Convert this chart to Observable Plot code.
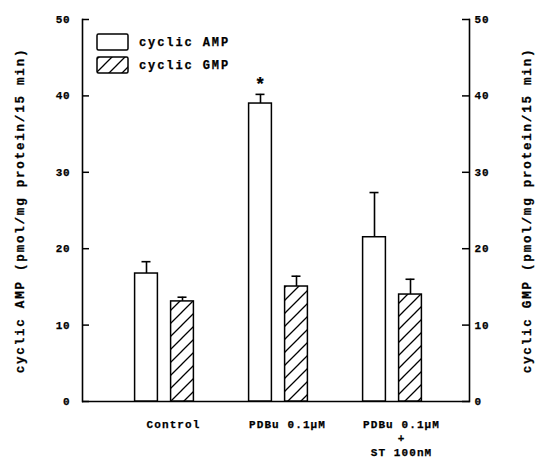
<!DOCTYPE html>
<html><head><meta charset="utf-8">
<script src="https://cdn.jsdelivr.net/npm/d3@7"></script>
<script src="https://cdn.jsdelivr.net/npm/@observablehq/plot@0.6"></script>
<style>
body{margin:0;background:#fff}
svg text{letter-spacing:0.8px;stroke:black;stroke-width:0.25px}
g[aria-label="y-axis label"] text{font-size:12.5px;letter-spacing:1.8px}
g[aria-label="x-axis tick label"] text{letter-spacing:1.1px}
g.legend text{letter-spacing:1.9px}
</style></head><body><div id="chart"></div>
<script>
const groups = ["Control", "PDBu", "PDBu+ST"];
const groupLabels = ["Control", "PDBu 0.1\u00b5M", "PDBu 0.1\u00b5M\n+\nST 100nM"];
const campMean = [16.75, 39.0, 21.5];
const campSem = [1.55, 1.2, 5.85];
const cgmpMean = [13.1, 15.05, 14.0];
const cgmpSem = [0.55, 1.35, 2.0];
const significance = ["", "*", ""];
const yTicks = [0, 10, 20, 30, 40, 50];
const series = ["cyclic AMP", "cyclic GMP"];
const yLabelLeft = "cyclic AMP (pmol/mg protein/15 min)";
const yLabelRight = "cyclic GMP (pmol/mg protein/15 min)";

const camp = groups.map((g, i) => ({group: g, mean: campMean[i], top: campMean[i] + campSem[i], sig: significance[i]}));
const cgmp = groups.map((g, i) => ({group: g, mean: cgmpMean[i], top: cgmpMean[i] + cgmpSem[i]}));

function legend(index, scales, values, dims) {
  const g = d3.create("svg:g").attr("class", "legend").attr("font-size", 12).attr("font-weight", "bold").attr("text-anchor", "start");
  const x0 = dims.marginLeft + 15, y0 = dims.marginTop + 15;
  series.forEach((s, i) => {
    const y = y0 + i * 23;
    g.append("rect").attr("x", x0).attr("y", y).attr("width", 31).attr("height", 16)
      .attr("rx", 1.5)
      .attr("fill", i ? "url(#hatch)" : "white").attr("stroke", "black").attr("stroke-width", 1.5);
    g.append("text").attr("x", x0 + 42).attr("y", y + 8).attr("dy", "0.35em")
      .attr("text-anchor", "start").text(s);
  });
  return g.node();
}

const chart = Plot.plot({
  width: 536,
  height: 460,
  marginTop: 19,
  marginBottom: 59,
  marginLeft: 82,
  marginRight: 67,
  style: {fontFamily: "'Liberation Mono', monospace", fontWeight: "bold", background: "white", color: "black"},
  x: {domain: groups, paddingInner: 0.3, paddingOuter: 0.34, align: 0.53, axis: null},
  y: {domain: [0, 50], axis: null},
  marks: [
    Plot.frame({anchor: "left", strokeWidth: 1.6}),
    Plot.frame({anchor: "right", strokeWidth: 1.6}),
    Plot.ruleY([0], {strokeWidth: 1.6}),
    Plot.ruleX(camp, {x: "group", y1: "mean", y2: "top", dx: -18, strokeWidth: 1.6}),
    Plot.tickY(camp, {x: "group", y: "top", insetLeft: 17.5, insetRight: 53.5, strokeWidth: 1.6}),
    Plot.ruleX(cgmp, {x: "group", y1: "mean", y2: "top", dx: 18, strokeWidth: 1.6}),
    Plot.tickY(cgmp, {x: "group", y: "top", insetLeft: 53.5, insetRight: 17.5, strokeWidth: 1.6}),
    Plot.barY(camp, {x: "group", y: "mean", fill: "white", stroke: "black", strokeWidth: 1.5, insetLeft: 10.6, insetRight: 46.6}),
    Plot.barY(cgmp, {x: "group", y: "mean", fill: "url(#hatch)", stroke: "black", strokeWidth: 1.5, insetLeft: 46.6, insetRight: 10.6}),
    Plot.text(camp, {x: "group", y: "top", text: "sig", dx: -18, dy: -10, fontSize: 18, fontWeight: "bold"}),
    Plot.axisY({anchor: "left", ticks: yTicks, tickSize: -7, tickPadding: 19, fontSize: 11, strokeWidth: 1.5,
      label: yLabelLeft, labelAnchor: "center", labelArrow: "none", labelOffset: 67}),
    Plot.axisY({anchor: "right", ticks: yTicks, tickSize: -8, tickPadding: 13, fontSize: 11, strokeWidth: 1.5,
      label: yLabelRight, labelAnchor: "center", labelArrow: "none", labelOffset: 61}),
    Plot.axisX({tickSize: 0, tickPadding: 17, fontSize: 11, dx: 9, lineHeight: 1.25, label: null,
      tickFormat: g => groupLabels[groups.indexOf(g)]}),
    legend
  ]
});

const defs = d3.create("svg:defs");
const pat = defs.append("pattern").attr("id", "hatch").attr("patternUnits", "userSpaceOnUse")
  .attr("width", 13).attr("height", 13);
pat.append("rect").attr("width", 13).attr("height", 13).attr("fill", "white");
pat.append("path").attr("d", "M-1,1 L1,-1 M0,13 L13,0 M12,14 L14,12")
  .attr("stroke", "black").attr("stroke-width", 1.3);
chart.insertBefore(defs.node(), chart.firstChild);

document.getElementById("chart").append(chart);
</script></body></html>
